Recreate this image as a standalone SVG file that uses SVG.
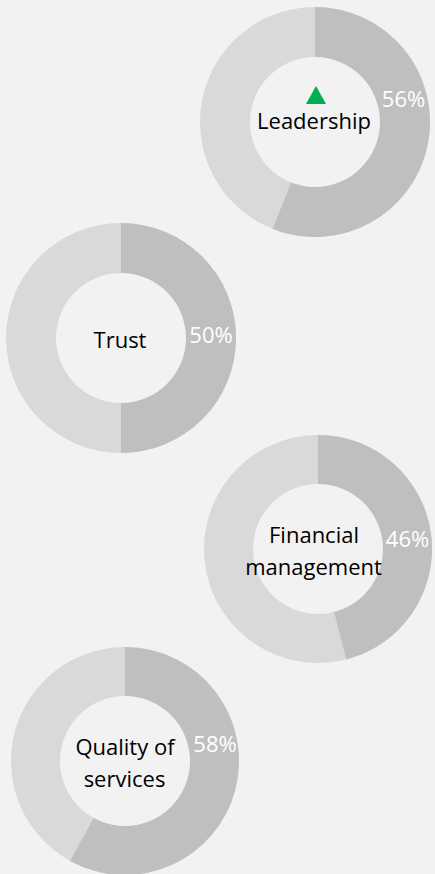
<svg xmlns="http://www.w3.org/2000/svg" width="435" height="874" viewBox="0 0 435 874">
<style>
.bg{fill:#F2F2F2}
.light{fill:#D9D9D9}
.dark{fill:#BFBFBF}
.hole{fill:#F2F2F2}
.lbl{font-family:"Open Sans","Noto Sans",sans-serif;font-size:22px;fill:#000;text-anchor:middle}
.pct{font-family:"Open Sans","Noto Sans",sans-serif;font-size:22px;fill:#FFFFFF;text-anchor:middle}
</style>
<rect class="bg" x="0" y="0" width="435" height="874"/>
<g id="leadership">
<circle class="light" cx="315" cy="122" r="115"/>
<path class="dark" d="M315,122 L315,7 A115,115 0 1 1 272.67,228.93 Z"/>
<circle class="hole" cx="315" cy="122" r="65"/>
<polygon points="306,104 326,104 316,86" fill="#00B050"/>
<text class="lbl" x="314" y="129">Leadership</text>
<text class="pct" x="403.5" y="107">56%</text>
</g>
<g id="trust">
<circle class="light" cx="121" cy="338" r="115"/>
<path class="dark" d="M121,338 L121,223 A115,115 0 0 1 121,453 Z"/>
<circle class="hole" cx="121" cy="338" r="65"/>
<text class="lbl" x="120" y="348">Trust</text>
<text class="pct" x="211" y="343">50%</text>
</g>
<g id="financial">
<circle class="light" cx="318" cy="549" r="114"/>
<path class="dark" d="M318,549 L318,435 A114,114 0 0 1 346.35,659.42 Z"/>
<circle class="hole" cx="318" cy="549" r="65"/>
<text class="lbl" x="314" y="543">Financial</text>
<text class="lbl" x="313.5" y="575">management</text>
<text class="pct" x="407.5" y="547">46%</text>
</g>
<g id="quality">
<circle class="light" cx="125" cy="761" r="114"/>
<path class="dark" d="M125,761 L125,647 A114,114 0 1 1 70.07,860.9 Z"/>
<circle class="hole" cx="125" cy="761" r="65"/>
<text class="lbl" x="125" y="755">Quality of</text>
<text class="lbl" x="124.5" y="787">services</text>
<text class="pct" x="215" y="752">58%</text>
</g>
<g id="connectors"/>
</svg>
